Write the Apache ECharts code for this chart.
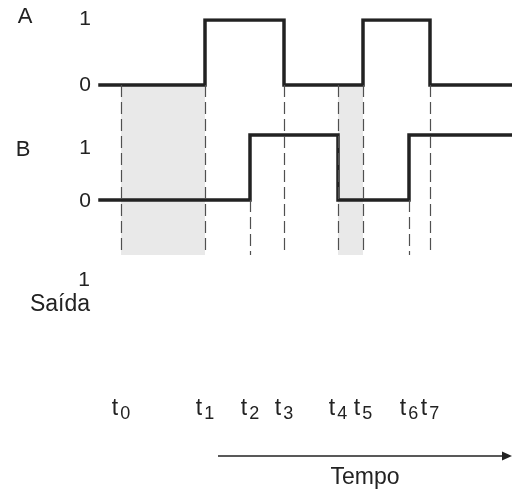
<!DOCTYPE html>
<html>
<head>
<meta charset="utf-8">
<script src="https://cdn.jsdelivr.net/npm/echarts@6/dist/echarts.min.js"></script>
<style>
  html, body { margin: 0; padding: 0; background: #fff; }
  #chart { width: 512px; height: 492px; }
</style>
</head>
<body>
<div id="chart"></div>
<script>
// transition instants t0..t7 (time units), and end of the time window
const times = [2.1, 10.5, 15.0, 18.4, 23.8, 26.3, 30.9, 33.0];
const timeEnd = 41.2;
const timeLabels = ['0', '1', '2', '3', '4', '5', '6', '7'];

// signal levels: [time, level], each level holds until the next point
const signalA = [[0, 0], [10.5, 1], [18.4, 0], [26.3, 1], [33.0, 0], [41.2, 0]];
const signalB = [[0, 0], [15.0, 1], [23.8, 0], [30.9, 1], [41.2, 1]];

// which instants get their guide line from trace B (the rest from trace A)
const guideFromB = [2, 6];
// shaded intervals, as pairs of instant indices
const shaded = [[0, 1], [4, 5]];

// vertical placement of the traces on the shared y axis
const offsetA = 2.615;
const offsetB = 0.846;
const yTop = 3.615;

const FONT = '"Liberation Sans", Arial, Helvetica, sans-serif';
const INK = '#222';

const chart = echarts.init(document.getElementById('chart'));

function shift(data, off) {
  return data.map(p => [p[0], p[1] + off]);
}

const guides = times.map((t, i) => {
  const top = guideFromB.indexOf(i) >= 0 ? offsetB : offsetA;
  return [{ coord: [t, top] }, { coord: [t, 0] }];
});

const areas = shaded.map(s => [
  { coord: [times[s[0]], 0] },
  { coord: [times[s[1]], offsetA] }
]);

const signalStyle = { color: INK, width: 3.5, join: 'miter', cap: 'square' };

function label(text, x, y, size, align) {
  return {
    type: 'text', x: x, y: y,
    style: { text: text, font: size + 'px ' + FONT, fill: INK, align: align || 'center', verticalAlign: 'middle' }
  };
}

chart.setOption({
  animation: false,
  backgroundColor: '#fff',
  grid: { left: 100, right: 0, top: 20, height: 235 },
  xAxis: {
    type: 'value',
    min: 0,
    max: timeEnd,
    axisLine: { show: false },
    axisTick: { show: false },
    splitLine: { show: false },
    axisLabel: {
      customValues: times,
      margin: 139,
      color: INK,
      formatter: v => '{t|t}{s|' + timeLabels[times.indexOf(v)] + '}',
      rich: {
        t: { fontFamily: FONT, fontSize: 23, color: INK },
        s: { fontFamily: FONT, fontSize: 18, color: INK, padding: [11, 0, 0, 2] }
      }
    }
  },
  yAxis: {
    type: 'value',
    min: 0,
    max: yTop,
    show: false
  },
  series: [
    {
      type: 'line',
      z: 1,
      silent: true,
      symbol: 'none',
      data: [[0, 0]],
      lineStyle: { opacity: 0 },
      markArea: {
        silent: true,
        itemStyle: { color: '#e9e9e9' },
        data: areas
      },
      markLine: {
        silent: true,
        symbol: 'none',
        label: { show: false },
        lineStyle: { color: '#505050', width: 1.2, type: [12, 5] },
        data: guides
      }
    },
    {
      name: 'A',
      type: 'line',
      z: 3,
      step: 'end',
      symbol: 'none',
      lineStyle: signalStyle,
      data: shift(signalA, offsetA)
    },
    {
      name: 'B',
      type: 'line',
      z: 3,
      step: 'end',
      symbol: 'none',
      lineStyle: signalStyle,
      data: shift(signalB, offsetB)
    }
  ],
  graphic: [
    label('A', 25, 17, 22),
    label('1', 85, 19, 21),
    label('0', 85, 85, 21),
    label('B', 23, 150, 22),
    label('1', 85, 148, 21),
    label('0', 85, 201, 21),
    label('1', 84, 280, 21),
    label('Saída', 90, 305, 23, 'right'),
    { type: 'line', shape: { x1: 218, y1: 456, x2: 506, y2: 456 }, style: { stroke: INK, lineWidth: 1.6 } },
    { type: 'polygon', shape: { points: [[502, 451.5], [512, 456], [502, 460.5]] }, style: { fill: INK } },
    label('Tempo', 365, 478, 23)
  ]
});
</script>
</body>
</html>
